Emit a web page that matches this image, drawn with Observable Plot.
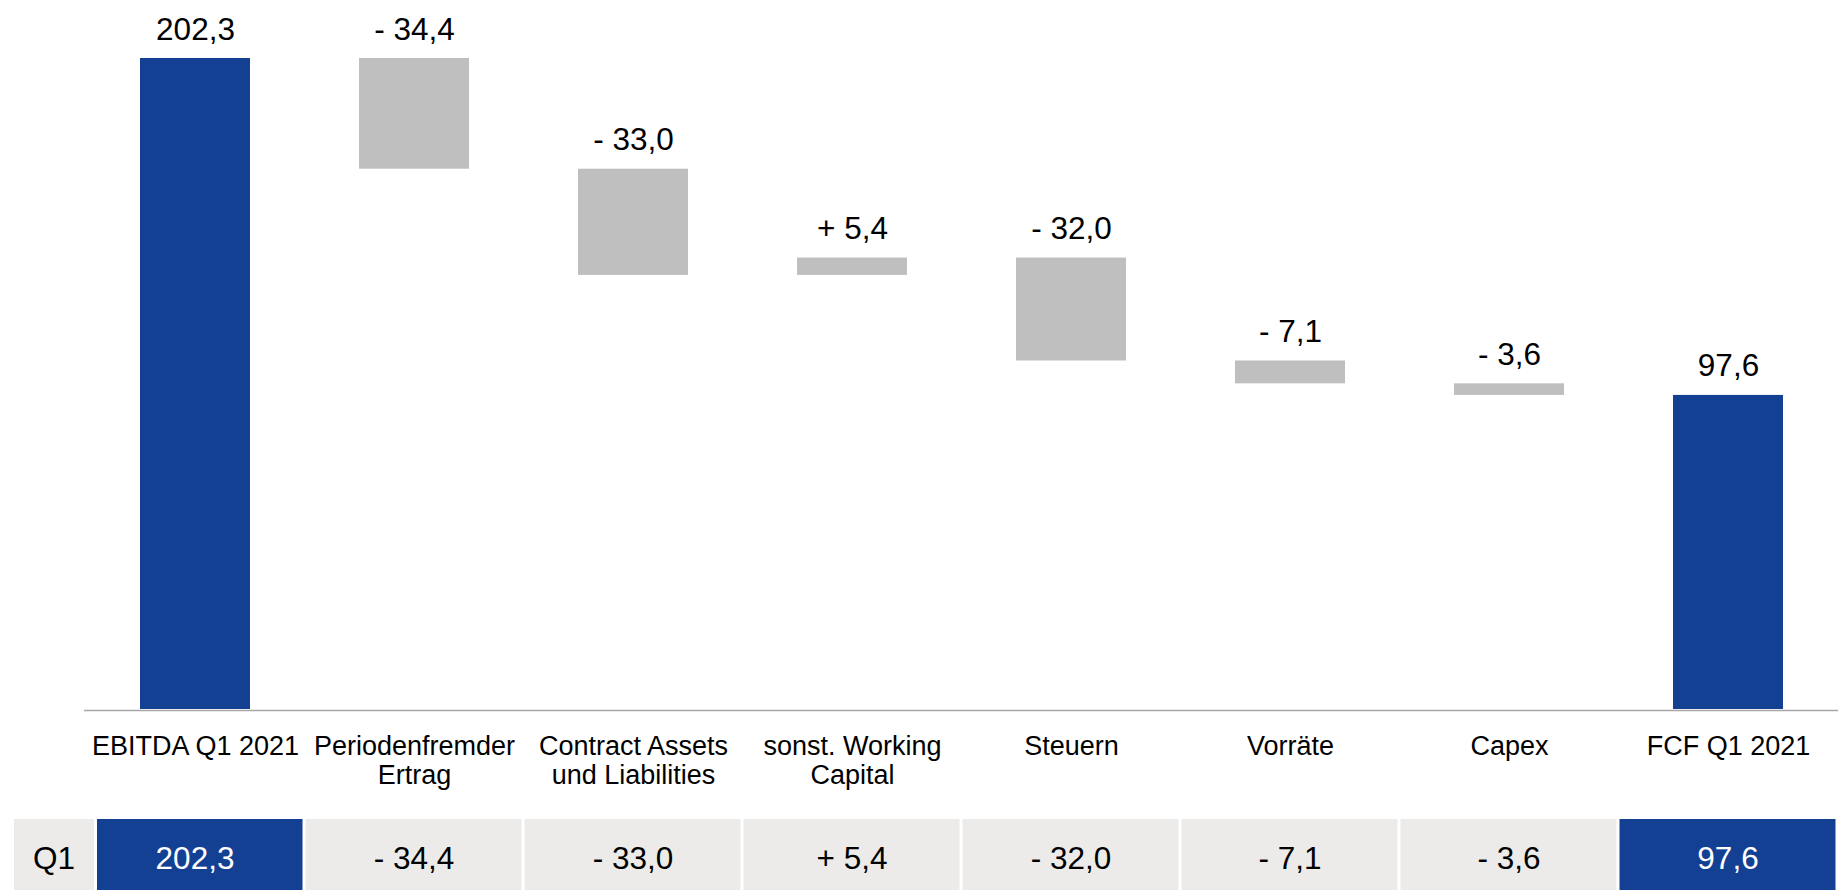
<!DOCTYPE html>
<html><head><meta charset="utf-8">
<script src="https://cdn.jsdelivr.net/npm/d3@7"></script>
<script src="https://cdn.jsdelivr.net/npm/@observablehq/plot@0.6"></script>
<style>
html,body{margin:0;padding:0;background:#fff;overflow:hidden;}
#chart svg{display:block;}
</style></head><body><div id="chart"></div>
<script>
const categories = ["EBITDA Q1 2021", "Periodenfremder\nErtrag", "Contract Assets\nund Liabilities", "sonst. Working\nCapital", "Steuern", "Vorräte", "Capex", "FCF Q1 2021"];
const values = [202.3, -34.4, -33.0, 5.4, -32.0, -7.1, -3.6, 97.6];
const kinds = ["total", "delta", "delta", "delta", "delta", "delta", "delta", "total"];
const rowLabel = "Q1";

const BLUE = "#144094", GRAY = "#BFBFBF", CELL = "#ECEBE9", AXIS = "#A6A6A6";
const FONT = "'Liberation Sans', Arial, sans-serif";

const fmtNum = v => d3.format(".1f")(Math.abs(v)).replace(".", ",");
const fmt = (v, k) => k === "total" ? fmtNum(v) : (v < 0 ? "- " : "+ ") + fmtNum(v);

let run = 0;
const steps = categories.map((c, i) => {
  const v = values[i], k = kinds[i];
  let y1, y2;
  if (k === "total") { y1 = 0; y2 = v; run = v; } else { y1 = run; y2 = run + v; run = y2; }
  return {cat: c, y1, y2, top: Math.max(y1, y2), kind: k, label: fmt(v, k)};
});

const chart = Plot.plot({
  width: 1838, height: 819,
  marginLeft: 84, marginRight: 0, marginTop: 58, marginBottom: 110,
  style: {fontFamily: FONT, background: "#fff", color: "#000"},
  x: {domain: categories, paddingInner: 0.5, paddingOuter: 0.25, label: null},
  y: {domain: [0, d3.max(values)], axis: null},
  color: {domain: ["total", "delta"], range: [BLUE, GRAY]},
  marks: [
    Plot.barY(steps, {x: "cat", y1: "y1", y2: "y2", fill: "kind"}),
    Plot.ruleY([0], {stroke: AXIS, strokeWidth: 1.5, dy: 1}),
    Plot.text(steps, {x: "cat", y: "top", text: "label", lineAnchor: "bottom", dy: -19, fontSize: 31.5, fill: "#000"}),
    Plot.axisX({tickSize: 0, tickPadding: 24, fontSize: 27, lineHeight: 1.1, label: null})
  ]
});

const xs = chart.scale("x");

const tbl = Plot.plot({
  width: 1838, height: 71, margin: 0,
  style: {fontFamily: FONT, background: "#fff", color: "#000"},
  x: {type: "band", domain: [rowLabel, ...categories], range: [xs.range[0] - xs.step, xs.range[1]], padding: 0, axis: null},
  color: {domain: ["total", "delta"], range: [BLUE, CELL]},
  marks: [
    Plot.cell([rowLabel], {x: d => d, fill: CELL, insetLeft: 148, insetRight: -9}),
    Plot.cell(steps.slice(0, 1), {x: "cat", fill: "kind", insetLeft: 12, insetRight: 1.5}),
    Plot.cell(steps.slice(1), {x: "cat", fill: "kind", insetLeft: 1.5, insetRight: 1.5}),
    Plot.text(steps.filter(d => d.kind === "total"), {x: "cat", text: "label", fill: "#fff", fontSize: 31.5, frameAnchor: "middle", dy: 4}),
    Plot.text(steps.filter(d => d.kind !== "total"), {x: "cat", text: "label", fill: "#000", fontSize: 31.5, frameAnchor: "middle", dy: 4}),
    Plot.text([rowLabel], {x: d => d, text: d => d, dx: 78, fill: "#000", fontSize: 31.5, frameAnchor: "middle", dy: 4})
  ]
});

document.getElementById("chart").append(chart, tbl);
</script>
</body></html>
